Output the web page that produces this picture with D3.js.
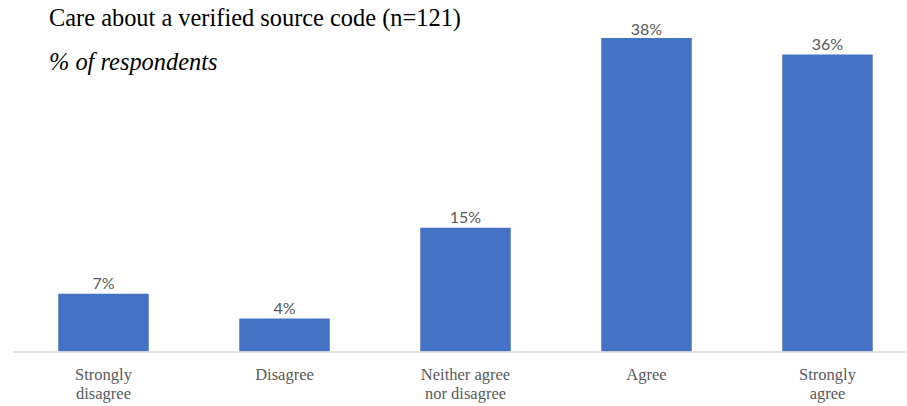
<!DOCTYPE html>
<html>
<head>
<meta charset="utf-8">
<script src="https://cdn.jsdelivr.net/npm/d3@7/dist/d3.min.js"></script>
<style>
  html, body { margin: 0; padding: 0; background: #ffffff; }
  svg { display: block; }
</style>
</head>
<body>
<svg id="chart" width="907" height="406"></svg>
<script>
// Survey answers and share of respondents (%)
const categories = [
  ["Strongly", "disagree"],
  ["Disagree"],
  ["Neither agree", "nor disagree"],
  ["Agree"],
  ["Strongly", "agree"]
];
const values = [7, 4, 15, 38, 36];
const valueLabels = ["7%", "4%", "15%", "38%", "36%"];
const titleText = "Care about a verified source code (n=121)";
const subtitleText = "% of respondents";

const svg = d3.select("#chart");
const baseline = 351.5;
const plotLeft = 13, plotRight = 918;
const labelCeil = 35;

const x = d3.scaleBand()
  .domain(d3.range(values.length))
  .range([plotLeft, plotRight])
  .paddingInner(0.5)
  .paddingOuter(0.25);

const y = d3.scaleLinear()
  .domain([0, 40])
  .range([baseline, baseline - 330]);

// Title and subtitle
svg.append("text")
  .attr("x", 49).attr("y", 26)
  .attr("font-family", "'Liberation Serif', 'Times New Roman', serif")
  .attr("font-size", 24.4)
  .attr("fill", "#000")
  .text(titleText);

svg.append("text")
  .attr("x", 49).attr("y", 70)
  .attr("font-family", "'Liberation Serif', 'Times New Roman', serif")
  .attr("font-style", "italic")
  .attr("font-size", 24.4)
  .attr("fill", "#000")
  .text(subtitleText);

// Bars
svg.append("g").selectAll("rect")
  .data(values)
  .join("rect")
  .attr("x", (d, i) => x(i))
  .attr("y", d => y(d))
  .attr("width", x.bandwidth())
  .attr("height", d => baseline - y(d))
  .attr("fill", "#4472C4");

// Baseline axis
const axis = svg.append("g")
  .attr("transform", `translate(0,${baseline})`)
  .call(d3.axisBottom(x).tickSize(0).tickFormat(""));
axis.select(".domain")
  .attr("d", `M${plotLeft},0.5H906`)
  .attr("stroke", "#d9d9d9")
  .attr("stroke-width", 1.5);

// Category labels, one text element per line
const catG = svg.append("g")
  .attr("font-family", "'Liberation Serif', 'Times New Roman', serif")
  .attr("font-size", 16.5)
  .attr("fill", "#595959")
  .attr("text-anchor", "middle");
categories.forEach((lines, i) => {
  const cx = x(i) + x.bandwidth() / 2;
  lines.forEach((ln, j) => {
    catG.append("text")
      .attr("x", cx)
      .attr("y", 380 + j * 19)
      .text(ln);
  });
});

// Value labels
svg.append("g")
  .attr("font-family", "Lato, 'Open Sans', sans-serif")
  .attr("font-size", 16)
  .attr("fill", "#595959")
  .attr("text-anchor", "middle")
  .selectAll("text")
  .data(values)
  .join("text")
  .attr("x", (d, i) => x(i) + x.bandwidth() / 2)
  .attr("y", d => Math.max(y(d) - 5, labelCeil))
  .text((d, i) => valueLabels[i]);
</script>
</body>
</html>
